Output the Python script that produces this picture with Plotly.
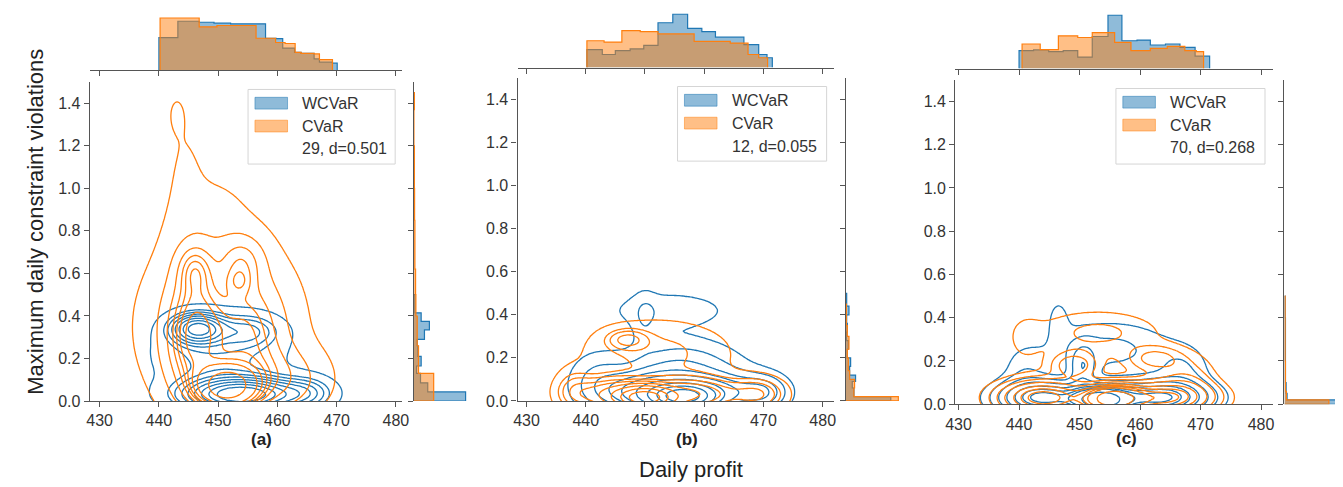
import numpy as np
import plotly.graph_objects as go

W, H = 1343, 487
BLUE, ORANGE = '#1f77b4', '#ff7f0e'
BLUE_FILL, ORANGE_FILL = 'rgba(31,119,180,0.5)', 'rgba(255,127,14,0.5)'
FONT = 'Liberation Sans, Arial, sans-serif'

# ---------------- data ----------------
panel_labels = ['(a)', '(b)', '(c)']
series_names = ['WCVaR', 'CVaR']
stat_labels = ['29, d=0.501', '12, d=0.055', '70, d=0.268']
x_ticks = [430, 440, 450, 460, 470, 480]
y_ticks = [0.0, 0.2, 0.4, 0.6, 0.8, 1.0, 1.2, 1.4]
x_title = 'Daily profit'
y_title = 'Maximum daily constraint violations'

# KDE kernels: (profit centre, violation centre, profit spread, violation spread, weight)
a_wcvar_kde = [(454.0, 0.03, 6.0, 0.05, 0.50), (446.5, 0.34, 2.8, 0.045, 0.15),
               (455.0, 0.33, 3.5, 0.05, 0.07), (450.0, 0.22, 7.0, 0.12, 0.25),
               (465.0, 0.04, 3.0, 0.05, 0.05)]
a_cvar_kde = [(451.5, 0.07, 3.0, 0.06, 0.20), (446.0, 0.30, 3.0, 0.18, 0.18),
              (455.0, 0.30, 4.0, 0.18, 0.14), (453.5, 0.56, 1.5, 0.045, 0.006),
              (450.0, 0.35, 8.0, 0.25, 0.25), (448.0, 0.85, 5.0, 0.15, 0.03),
              (444.5, 1.10, 2.0, 0.15, 0.008), (443.0, 1.35, 1.3, 0.08, 0.003),
              (460.0, 0.10, 5.0, 0.10, 0.07), (446.0, 0.62, 2.0, 0.08, 0.03),
              (454.0, 0.66, 2.5, 0.08, 0.03)]
b_wcvar_kde = [(456.5, 0.02, 3.5, 0.04, 0.30), (450.0, 0.04, 5.0, 0.06, 0.20),
               (463.0, 0.04, 5.0, 0.06, 0.15), (456.0, 0.15, 6.0, 0.08, 0.15),
               (450.0, 0.38, 1.3, 0.08, 0.012), (454.0, 0.42, 7.0, 0.06, 0.05),
               (470.0, 0.04, 2.5, 0.05, 0.04), (442.0, 0.10, 3.0, 0.08, 0.04)]
b_cvar_kde = [(450.0, 0.015, 3.0, 0.035, 0.30), (444.0, 0.03, 4.0, 0.05, 0.15),
              (458.0, 0.03, 5.0, 0.05, 0.20), (447.0, 0.285, 2.2, 0.03, 0.025),
              (452.0, 0.22, 8.0, 0.10, 0.18), (469.0, 0.03, 3.0, 0.05, 0.06),
              (438.0, 0.05, 2.0, 0.06, 0.03)]
c_wcvar_kde = [(453.5, 0.02, 3.0, 0.04, 0.20), (444.0, 0.03, 4.5, 0.05, 0.20),
               (463.0, 0.03, 5.0, 0.05, 0.22), (446.5, 0.40, 1.3, 0.07, 0.007),
               (455.0, 0.25, 7.0, 0.09, 0.10), (450.5, 0.17, 1.5, 0.07, 0.03),
               (441.0, 0.15, 2.5, 0.08, 0.02), (467.0, 0.15, 3.0, 0.08, 0.03)]
c_cvar_kde = [(455.5, 0.025, 3.0, 0.04, 0.20), (444.0, 0.03, 4.5, 0.05, 0.20),
              (464.0, 0.03, 5.0, 0.05, 0.20), (449.0, 0.18, 2.5, 0.04, 0.03),
              (462.5, 0.21, 3.0, 0.04, 0.03), (453.0, 0.33, 7.0, 0.07, 0.07),
              (441.0, 0.30, 2.0, 0.08, 0.01), (468.0, 0.13, 3.0, 0.07, 0.03)]

# top marginal histograms (daily profit)
a_wcvar_profit_edges = [440.0, 443.2, 446.8, 449.3, 452.1, 458.0, 459.8, 460.9, 462.9, 464.0, 466.2, 467.1, 469.3, 470.1]
a_wcvar_profit_counts = [100, 150, 147, 144, 142, 98, 97, 68, 55, 52, 35, 25, 22]
a_cvar_profit_edges = [440.2, 446.8, 449.8, 456.4, 459.7, 461.3, 463.0, 464.0, 466.2, 467.1, 469.3]
a_cvar_profit_counts = [160, 133, 137, 98, 85, 82, 55, 52, 50, 33]
b_wcvar_profit_edges = [440.2, 442.8, 445.0, 447.5, 449.8, 452.2, 454.7, 457.2, 459.6, 461.9, 466.7, 469.2, 470.6, 471.5]
b_wcvar_profit_counts = [55, 40, 52, 57, 68, 137, 163, 120, 110, 93, 70, 40, 30]
b_cvar_profit_edges = [440.2, 443.1, 446.1, 449.2, 452.2, 458.3, 464.4, 467.4, 469.2, 470.7]
b_cvar_profit_counts = [82, 78, 113, 110, 103, 80, 75, 40, 30]
c_wcvar_profit_edges = [440.0, 442.4, 444.9, 447.3, 449.7, 452.1, 454.7, 457.0, 459.5, 461.7, 464.2, 466.6, 469.1, 471.5]
c_wcvar_profit_counts = [55, 57, 52, 55, 35, 98, 163, 85, 87, 72, 75, 65, 38]
c_cvar_profit_edges = [440.5, 443.5, 446.5, 449.7, 452.1, 455.8, 458.5, 461.7, 464.5, 467.4, 469.3, 470.5]
c_cvar_profit_counts = [75, 58, 100, 95, 110, 80, 55, 62, 68, 55, 52]

# right marginal histograms (constraint violations)
a_wcvar_viol_edges = [0.0, 0.043, 0.086, 0.13, 0.165, 0.21, 0.26, 0.29, 0.335, 0.375, 0.415, 0.5]
a_wcvar_viol_counts = [157, 42, 20, 8, 22, 12, 10, 32, 47, 22, 3]
a_cvar_viol_edges = [0.0, 0.13, 0.26, 0.4, 0.5, 0.62, 0.75, 0.85, 1.0, 1.2, 1.37, 1.45]
a_cvar_viol_counts = [60, 14, 10, 6, 5, 3, 3, 2, 1.5, 0, 1.5]
b_wcvar_viol_edges = [0.0, 0.02, 0.06, 0.09, 0.12, 0.16, 0.2, 0.24, 0.28, 0.32, 0.36, 0.4, 0.44, 0.5]
b_wcvar_viol_counts = [137, 25, 20, 30, 12, 15, 5, 8, 3, 5, 3, 10, 3]
b_cvar_viol_edges = [0.0, 0.02, 0.06, 0.10, 0.14, 0.2, 0.24, 0.3, 0.35, 0.45]
b_cvar_viol_counts = [160, 25, 27, 12, 8, 5, 10, 5, 2]
c_wcvar_viol_edges = [0.0, 0.02, 0.05, 0.1, 0.2, 0.3, 0.4, 0.5]
c_wcvar_viol_counts = [160, 8, 5, 3, 3, 3, 2]
c_cvar_viol_edges = [0.0, 0.02, 0.06, 0.1, 0.2, 0.3, 0.4, 0.5]
c_cvar_viol_counts = [135, 6, 3, 3, 2, 2, 2]

kde_sets = [(a_wcvar_kde, a_cvar_kde), (b_wcvar_kde, b_cvar_kde), (c_wcvar_kde, c_cvar_kde)]
profit_hists = [((a_wcvar_profit_edges, a_wcvar_profit_counts), (a_cvar_profit_edges, a_cvar_profit_counts)),
                ((b_wcvar_profit_edges, b_wcvar_profit_counts), (b_cvar_profit_edges, b_cvar_profit_counts)),
                ((c_wcvar_profit_edges, c_wcvar_profit_counts), (c_cvar_profit_edges, c_cvar_profit_counts))]
viol_hists = [((a_wcvar_viol_edges, a_wcvar_viol_counts), (a_cvar_viol_edges, a_cvar_viol_counts)),
              ((b_wcvar_viol_edges, b_wcvar_viol_counts), (b_cvar_viol_edges, b_cvar_viol_counts)),
              ((c_wcvar_viol_edges, c_wcvar_viol_counts), (c_cvar_viol_edges, c_cvar_viol_counts))]

# ---------------- geometry (pixels) ----------------
geometry = [
    dict(main_x=(72.7, 389.3), main_y=(75.3, 400.5), xr=(428.33, 481.1), top_y=(0.0, 63.5), right_x=(401.0, 466.0),
         legend=(233, 83, 382, 159), label=(247, 440)),
    dict(main_x=(506.0, 826.7), main_y=(71.3, 400.3), xr=(428.5, 481.95), top_y=(0.0, 60.7), right_x=(838.3, 903.3),
         legend=(668, 80, 819, 156), label=(678, 440)),
    dict(main_x=(949.3, 1271.0), main_y=(73.2, 403.7), xr=(429.46, 481.96), top_y=(0.0, 61.7), right_x=(1282.7, 1343.0),
         legend=(1112, 82, 1263, 159), label=(1123, 439)),
]


def px(v):
    return v / W


def py(v):
    return 1 - v / H


gx = np.linspace(418, 492, 240)
gy = np.linspace(-0.5, 1.9, 330)
GX, GY = np.meshgrid(gx, gy)


def iso_prop(kernels):
    d = np.zeros_like(GX)
    for cx, cy, sx, sy, w in kernels:
        d += w * np.exp(-0.5 * ((GX - cx) / sx) ** 2 - 0.5 * ((GY - cy) / sy) ** 2) / (sx * sy)
    flat = d.ravel()
    order = np.argsort(-flat)
    cum = np.cumsum(flat[order]) / flat.sum()
    prop = np.empty_like(flat)
    prop[order] = 1 - cum
    return prop.reshape(d.shape)


fig = go.Figure()
axis_line = dict(showline=True, linecolor='#555555', linewidth=1.3, ticks='outside', ticklen=5,
                 tickwidth=1.2, tickcolor='#555555', showgrid=False, zeroline=False,
                 tickfont=dict(family=FONT, size=16, color='#333333'))
layout = dict(width=W, height=H, margin=dict(l=0, r=0, t=0, b=0), paper_bgcolor='white',
              plot_bgcolor='rgba(0,0,0,0)', showlegend=False)
shapes, annotations = [], []


def an(i):
    return '' if i == 1 else str(i)


for p in range(3):
    g = geometry[p]
    im, it, ir = 3 * p + 1, 3 * p + 2, 3 * p + 3
    mx = [px(g['main_x'][0]), px(g['main_x'][1])]
    my = [py(g['main_y'][1]), py(g['main_y'][0])]
    ty = [py(g['top_y'][1]), py(g['top_y'][0])]
    rx = [px(g['right_x'][0]), min(1.0, px(g['right_x'][1]))]
    layout['xaxis' + an(im)] = dict(domain=mx, range=list(g['xr']), tickvals=x_ticks, anchor='y' + an(im), **axis_line)
    layout['yaxis' + an(im)] = dict(domain=my, range=[0, 1.5], tickvals=y_ticks, tickformat='.1f',
                                    anchor='x' + an(im), **axis_line)
    layout['xaxis' + an(it)] = dict(domain=mx, range=list(g['xr']), tickvals=x_ticks, showticklabels=False,
                                    anchor='y' + an(it), **axis_line)
    layout['yaxis' + an(it)] = dict(domain=ty, range=[0, 3 * (g['top_y'][1] - g['top_y'][0])], visible=False,
                                    anchor='x' + an(it))
    layout['xaxis' + an(ir)] = dict(domain=rx, range=[0, 3 * (g['right_x'][1] - g['right_x'][0])], visible=False,
                                    anchor='y' + an(ir))
    layout['yaxis' + an(ir)] = dict(domain=my, range=[0, 1.5], tickvals=y_ticks, showticklabels=False,
                                    anchor='x' + an(ir), **axis_line)

    for kern, color in zip(kde_sets[p], [BLUE, ORANGE]):
        fig.add_trace(go.Contour(x=gx, y=gy, z=iso_prop(kern), xaxis='x' + an(im), yaxis='y' + an(im),
                                 contours=dict(coloring='lines', start=0.05, end=0.9, size=0.95 / 9),
                                 line=dict(width=1.3, smoothing=1), colorscale=[[0, color], [1, color]],
                                 showscale=False, hoverinfo='skip'))
    for (edges, counts), color, fill in zip(profit_hists[p], [BLUE, ORANGE], [BLUE_FILL, ORANGE_FILL]):
        xs = [edges[0]] + list(edges[:-1]) + [edges[-1]]
        ys = [0] + list(counts) + [0]
        fig.add_trace(go.Scatter(x=xs, y=ys, mode='lines', line=dict(shape='hv', color=color, width=1.2),
                                 fill='tozeroy', fillcolor=fill, xaxis='x' + an(it), yaxis='y' + an(it),
                                 hoverinfo='skip'))
    for (edges, counts), color, fill in zip(viol_hists[p], [BLUE, ORANGE], [BLUE_FILL, ORANGE_FILL]):
        ys = [edges[0]] + list(edges[:-1]) + [edges[-1]]
        xs = [0] + list(counts) + [0]
        fig.add_trace(go.Scatter(x=xs, y=ys, mode='lines', line=dict(shape='vh', color=color, width=1.2),
                                 fill='tozerox', fillcolor=fill, xaxis='x' + an(ir), yaxis='y' + an(ir),
                                 hoverinfo='skip'))

    lx0, ly0, lx1, ly1 = g['legend']
    shapes.append(dict(type='rect', xref='paper', yref='paper', x0=px(lx0), x1=px(lx1), y0=py(ly1), y1=py(ly0),
                       fillcolor='rgba(255,255,255,0.85)', line=dict(color='#d5d5d5', width=1)))
    for k, (name, color, fill) in enumerate(zip(series_names, [BLUE, ORANGE], [BLUE_FILL, ORANGE_FILL])):
        cy = ly0 + 14 + 23.3 * k
        shapes.append(dict(type='rect', xref='paper', yref='paper', x0=px(lx0 + 7), x1=px(lx0 + 40),
                           y0=py(cy + 6), y1=py(cy - 6), fillcolor=fill, line=dict(color=fill, width=1)))
        annotations.append(dict(x=px(lx0 + 53), y=py(cy), xref='paper', yref='paper', text=name, showarrow=False,
                                xanchor='left', yanchor='middle', font=dict(family=FONT, size=16, color='#333333')))
    annotations.append(dict(x=px(lx0 + 53), y=py(ly0 + 14 + 46.6), xref='paper', yref='paper', text=stat_labels[p],
                            showarrow=False, xanchor='left', yanchor='middle',
                            font=dict(family=FONT, size=16, color='#333333')))
    annotations.append(dict(x=px(g['label'][0]), y=py(g['label'][1]), xref='paper', yref='paper',
                            text='<b>' + panel_labels[p] + '</b>', showarrow=False, xanchor='center',
                            yanchor='middle', font=dict(family=FONT, size=17, color='#222222')))

annotations.append(dict(x=px(682), y=py(470), xref='paper', yref='paper', text=x_title, showarrow=False,
                        xanchor='center', yanchor='middle', font=dict(family=FONT, size=22, color='#222222')))
annotations.append(dict(x=px(18), y=py(218), xref='paper', yref='paper', text=y_title, showarrow=False,
                        textangle=-90, xanchor='center', yanchor='middle',
                        font=dict(family=FONT, size=22, color='#222222')))

layout['shapes'] = shapes
layout['annotations'] = annotations
fig.update_layout(**layout)
fig.write_html('out.html')
